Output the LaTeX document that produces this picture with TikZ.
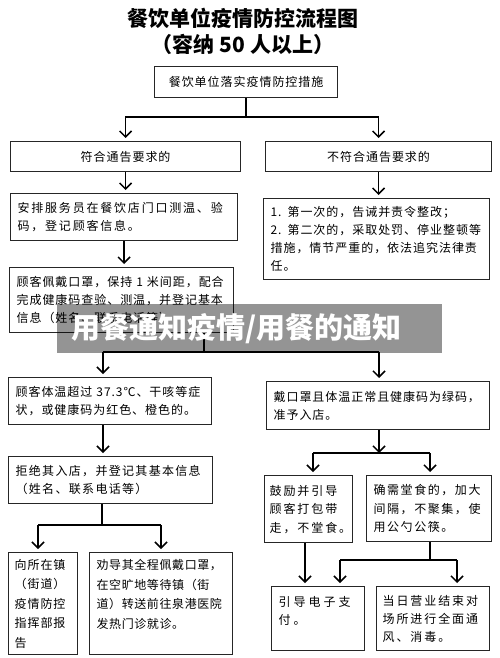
\documentclass[tikz,border=0pt]{standalone}
\usepackage{fontspec}
\newfontfamily\cjk{Noto Sans CJK SC}
\usetikzlibrary{arrows.meta,calc}
\begin{document}
\begin{tikzpicture}[x=1pt,y=-1pt,
  box/.style={draw=black!85, line width=1.2pt, inner xsep=7pt, inner ysep=0pt, anchor=north west, align=left,
    font=\cjk\addfontfeature{LetterSpace=8}\fontsize{12}{18}\selectfont},
  cbox/.style={box, align=center},
  arr/.style={line width=1.5pt, -{Straight Barb[length=6pt,width=12pt]}, shorten >=3pt},
  ln/.style={line width=1.5pt},
  ttl/.style={font=\cjk\bfseries\fontsize{21}{21}\selectfont}]
\useasboundingbox[fill=white] (0,0) rectangle (500,658);

% titles
\node[ttl] (t1) at (243,18) {餐饮单位疫情防控流程图};
\node[ttl] (t2) at (243,44) {（容纳 50 人以上）};

% boxes
\node[cbox, text width=169pt, minimum height=31pt] (n1) at (154,66) {餐饮单位落实疫情防控措施};
\node[cbox, text width=216pt, minimum height=30pt] (n2L) at (10,141) {符合通告要求的};
\node[cbox, text width=212pt, minimum height=30pt] (n2R) at (265,141) {不符合通告要求的};
\node[box, text width=213pt, minimum height=47pt,
  font=\cjk\addfontfeature{LetterSpace=15}\fontsize{12}{18}\selectfont] (n3L) at (10,193) {安排服务员在餐饮店门口测温、验\\码，登记顾客信息。};
\node[box, text width=212pt, minimum height=81pt] (n3R) at (263,198) {1. 第一次的，告诫并责令整改；\\2. 第二次的，采取处罚、停业整顿等\\措施，情节严重的，依法追究法律责\\任。};
\node[box, text width=210pt, minimum height=65pt] (n4L) at (9,267) {顾客佩戴口罩，保持 1 米间距，配合\\完成健康码查验、测温，并登记基本\\信息（姓名、联系电话等）};
\node[box, text width=189pt, minimum height=47pt] (n5L) at (8,377) {顾客体温超过 37.3℃、干咳等症\\状，或健康码为红色、橙色的。};
\node[box, text width=209pt, minimum height=48pt] (n5R) at (266,381) {戴口罩且体温正常且健康码为绿码，\\准予入店。};
\node[box, text width=190pt, minimum height=47pt,
  font=\cjk\addfontfeature{LetterSpace=11}\fontsize{12}{18}\selectfont] (n6L) at (8,456) {拒绝其入店，并登记其基本信息\\（姓名、联系电话等）};
\node[box, inner xsep=6pt, text width=57pt, minimum height=102pt,
  font=\cjk\addfontfeature{LetterSpace=8}\fontsize{12}{19.5}\selectfont] (n7L) at (8,552) {向所在镇\\（街道）\\疫情防控\\指挥部报\\告};
\node[box, text width=129pt, minimum height=102pt,
  font=\cjk\addfontfeature{LetterSpace=5}\fontsize{12}{19.5}\selectfont] (n8L) at (89,552)
  {\parbox[c][88pt][t]{129pt}{劝导其全程佩戴口罩，\\在空旷地等待镇（街\\道）转送前往泉港医院\\发热门诊就诊。}};
\node[box, inner xsep=5pt, text width=78pt, minimum height=67pt,
  font=\cjk\addfontfeature{LetterSpace=16}\fontsize{12}{18.5}\selectfont] (n9a) at (264,475) {鼓励并引导\\顾客打包带\\走，不堂食。};
\node[box, text width=111pt, minimum height=66pt,
  font=\cjk\addfontfeature{LetterSpace=13}\fontsize{12}{18.5}\selectfont] (n9b) at (366,475) {确需堂食的，加大\\间隔，不聚集，使\\用公勺公筷。};
\node[box, text width=79pt, minimum height=64pt,
  font=\cjk\addfontfeature{LetterSpace=25}\fontsize{12}{18}\selectfont] (n10a) at (271,586)
  {\parbox[c][44pt][t]{79pt}{引导电子支\\付。}};
\node[box, inner xsep=6pt, text width=101pt, minimum height=64pt,
  font=\cjk\addfontfeature{LetterSpace=16}\fontsize{12}{18}\selectfont] (n10b) at (376,586) {当日营业结束对\\场所进行全面通\\风、消毒。};

% connectors
\draw[ln] (n1.south) -- ++(0,19) coordinate (j1);
\draw[arr] (j1) -| (n2L.north);
\draw[arr] (j1) -| (n2R.north);
\draw[arr] (n2L.south) -- (n2L.south |- n3L.north);
\draw[arr] (n2R.south) -- (n2R.south |- n3R.north);
\draw[arr] (n3L.south) -- (n3L.south |- n4L.north);

\coordinate (j2) at (204,352);
\coordinate (k5L) at (103,352);
\coordinate (k5R) at (379,352);
\draw[ln] (j2 |- n4L.south) -- (j2);
\draw[ln] (k5L) -- (k5R);
\draw[arr] (k5L) -- (k5L |- n5L.north);
\draw[arr] (k5R) -- (k5R |- n5R.north);
\draw[arr] (k5L |- n5L.south) -- (k5L |- n6L.north);

\coordinate (j6) at (102,525);
\coordinate (k7) at (38,525);
\coordinate (k8) at (161,525);
\draw[ln] (j6 |- n6L.south) -- (j6);
\draw[ln] (k7) -- (k8);
\draw[arr] (k7) -- (k7 |- n7L.north);
\draw[arr] (k8) -- (k8 |- n8L.north);

\coordinate (j5R) at (379,453);
\coordinate (k9a) at (313,453);
\coordinate (k9b) at (430,453);
\draw[arr, shorten >=0pt] (j5R |- n5R.south) -- (j5R);
\draw[ln] (k9a) -- (k9b);
\draw[arr] (k9a) -- (k9a |- n9a.north);
\draw[arr] (k9b) -- (k9b |- n9b.north);

\coordinate (c305) at (305,560);
\draw[arr] (c305 |- n9a.south) -- (c305 |- n10a.north);
\coordinate (j9b) at (430,560);
\coordinate (k10a) at (340,560);
\coordinate (k10b) at (457,560);
\draw[ln] (j9b |- n9b.south) -- (j9b);
\draw[ln] (k10a) -- (k10b);
\draw[arr] (k10a) -- (k10a |- n10a.north);
\draw[arr] (k10b) -- (k10b |- n10b.north);

% watermark banner
\node[fill=black, fill opacity=0.42, draw=none, minimum width=385pt, minimum height=49pt, inner sep=0pt, anchor=north west] (banner) at (57,304) {};
\node[anchor=west, text=white, inner sep=0pt, font=\cjk\bfseries\fontsize{29}{29}\selectfont] (wm) at (71,329) {用餐通知疫情/用餐的通知};
\end{tikzpicture}
\end{document}
